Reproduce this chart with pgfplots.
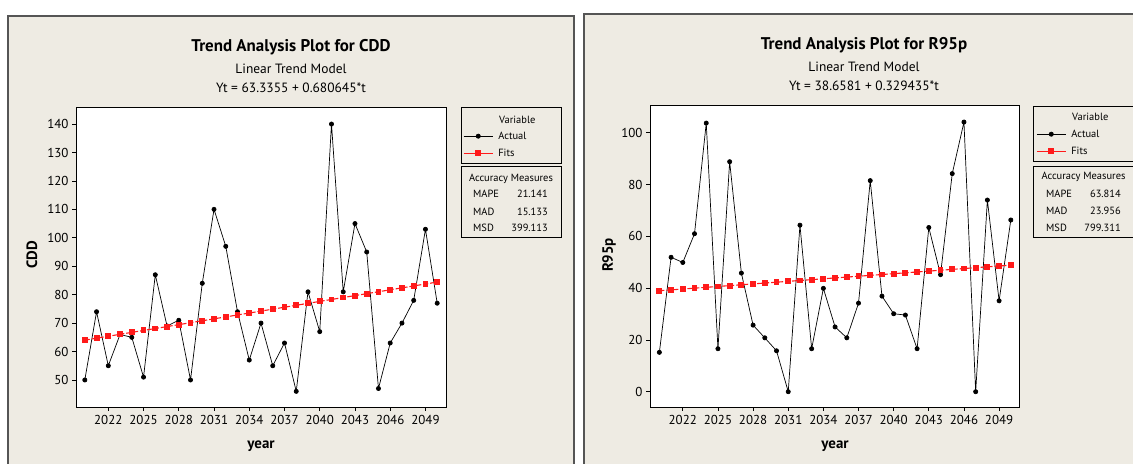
\documentclass[border=0pt]{standalone}
\usepackage{fontspec}
\setmainfont{PT Sans}
\usepackage{pgfplots}
\pgfplotsset{compat=1.18}
\definecolor{panelbg}{HTML}{EEEBE3}
\definecolor{panelln}{HTML}{555555}
\definecolor{fitred}{HTML}{FF1A1A}
\pgfplotsset{
  trendax/.style={
    scale only axis, anchor=south west,
    axis line style={black, line width=0.8bp},
    axis background/.style={fill=white},
    tick align=outside, tick pos=left,
    major tick length=4bp,
    every tick/.style={black, line width=0.7bp},
    xtick={2022,2025,...,2049},
    xticklabel style={/pgf/number format/1000 sep={}},
    /pgf/number format/assume math mode=true,
    tick label style={font=\fontsize{13}{14}\selectfont},
    xticklabel style={yshift=-1bp},
    legend image code/.code={%
      \draw[#1,solid,mark=none] (0pt,0pt) -- (29bp,0pt);
      \draw[#1,solid] plot coordinates {(14.5bp,0pt)};},
    legend style={draw=none, fill=none, inner sep=0pt, row sep=0pt,
      font=\fontsize{10.5}{11}\selectfont,
      nodes={inner xsep=5bp, inner ysep=0pt, minimum height=17bp},
      legend cell align=left},
  },
  actual/.style={black, line width=0.7bp, mark=*, mark size=2.1bp, mark options={fill=black, solid}},
  fits/.style={fitred, line width=1.1bp, dash pattern=on 5bp off 2bp, mark=square*, mark size=2.4bp, mark options={fill=fitred, solid}},
}
\begin{document}
\begin{tikzpicture}[x=1bp,y=1bp]
\path[use as bounding box] (0,0) rectangle (1133,464);
\clip (0,0) rectangle (1133,464);
\fill[white] (0,0) rectangle (1133,464);
% panels
\filldraw[fill=panelbg, draw=panelln, line width=1.3bp] (8,448) rectangle (574,-10);
\filldraw[fill=panelbg, draw=panelln, line width=1.3bp] (584,450) rectangle (1150,-10);

\coordinate (axL) at (76,57);
\coordinate (axR) at (650,57);

% ---------- left titles ----------
\node[font=\fontsize{17}{18}\selectfont\bfseries] at (291,417) {Trend Analysis Plot for CDD};
\node[font=\fontsize{13.5}{14}\selectfont] at (291,395) {Linear Trend Model};
\node[font=\fontsize{13.5}{14}\selectfont] at (291,376) {Yt = 63.3355 + 0.680645*t};
\node[font=\fontsize{15}{16}\selectfont\bfseries] at (261,18) {year};
\node[font=\fontsize{15}{16}\selectfont\bfseries, rotate=90] at (32,209) {CDD};

\begin{axis}[trendax, at={(axL)}, width=370bp, height=300bp,
  xmin=2019.25, xmax=2050.75, ymin=40.5, ymax=146,
  ytick={50,60,...,140},
  legend style={at={(1.0459,0.9317)}, anchor=north west}]
\addplot[actual] coordinates {
(2020,50)(2021,74)(2022,55)(2023,66)(2024,65)(2025,51)(2026,87)(2027,69)(2028,71)(2029,50)
(2030,84)(2031,110)(2032,97)(2033,74)(2034,57)(2035,70)(2036,55)(2037,63)(2038,46)(2039,81)
(2040,67)(2041,140)(2042,81)(2043,105)(2044,95)(2045,47)(2046,63)(2047,70)(2048,78)(2049,103)
(2050,77)};
\addlegendentry{Actual}
\addplot[fits] coordinates {
(2020,64.016)(2021,64.697)(2022,65.377)(2023,66.058)(2024,66.739)(2025,67.419)(2026,68.100)
(2027,68.781)(2028,69.461)(2029,70.142)(2030,70.823)(2031,71.503)(2032,72.184)(2033,72.865)
(2034,73.545)(2035,74.226)(2036,74.907)(2037,75.587)(2038,76.268)(2039,76.948)(2040,77.629)
(2041,78.310)(2042,78.990)(2043,79.671)(2044,80.352)(2045,81.032)(2046,81.713)(2047,82.394)
(2048,83.074)(2049,83.755)(2050,84.436)};
\addlegendentry{Fits}
\end{axis}
% left legend boxes
\draw[black, line width=0.8bp] (461,357) rectangle (561,301);
\node[font=\fontsize{10.5}{11}\selectfont, anchor=west, inner sep=0pt] at (499,344) {Variable};
\draw[black, line width=0.8bp] (461,298) rectangle (561,227);
\begin{scope}[font=\fontsize{10.5}{11}\selectfont]
\node at (511,285) {Accuracy Measures};
\node[anchor=west, inner sep=0pt] at (473,270) {MAPE};
\node[anchor=west, inner sep=0pt] at (473,252) {MAD};
\node[anchor=west, inner sep=0pt] at (473,236) {MSD};
\node[anchor=east, inner sep=0pt] at (548,270) {21.141};
\node[anchor=east, inner sep=0pt] at (548,252) {15.133};
\node[anchor=east, inner sep=0pt] at (548,236) {399.113};
\end{scope}

% ---------- right titles ----------
\node[font=\fontsize{17}{18}\selectfont\bfseries] at (864,419) {Trend Analysis Plot for R95p};
\node[font=\fontsize{13.5}{14}\selectfont] at (864,397) {Linear Trend Model};
\node[font=\fontsize{13.5}{14}\selectfont] at (864,378) {Yt = 38.6581 + 0.329435*t};
\node[font=\fontsize{15}{16}\selectfont\bfseries] at (835,18) {year};
\node[font=\fontsize{15}{16}\selectfont\bfseries, rotate=90] at (609,209) {R95p};

\begin{axis}[trendax, at={(axR)}, width=369bp, height=302bp,
  xmin=2019.2, xmax=2050.7, ymin=-5.9, ymax=110.7,
  ytick={0,20,...,100},
  legend style={at={(1.0461,0.9321)}, anchor=north west}]
\addplot[actual] coordinates {
(2020,15.2)(2021,51.9)(2022,49.9)(2023,61)(2024,103.7)(2025,16.6)(2026,88.8)(2027,45.8)(2028,25.7)(2029,20.8)
(2030,15.8)(2031,0)(2032,64.3)(2033,16.6)(2034,39.9)(2035,25)(2036,20.8)(2037,34.2)(2038,81.5)(2039,36.9)
(2040,30.1)(2041,29.6)(2042,16.6)(2043,63.4)(2044,45.2)(2045,84.2)(2046,104.1)(2047,0)(2048,74)(2049,35.1)
(2050,66.3)};
\addlegendentry{Actual}
\addplot[fits] coordinates {
(2020,38.988)(2021,39.317)(2022,39.646)(2023,39.976)(2024,40.305)(2025,40.635)(2026,40.964)
(2027,41.294)(2028,41.623)(2029,41.953)(2030,42.282)(2031,42.611)(2032,42.941)(2033,43.270)
(2034,43.600)(2035,43.929)(2036,44.259)(2037,44.588)(2038,44.918)(2039,45.247)(2040,45.576)
(2041,45.906)(2042,46.235)(2043,46.565)(2044,46.894)(2045,47.224)(2046,47.553)(2047,47.882)
(2048,48.212)(2049,48.541)(2050,48.871)};
\addlegendentry{Fits}
\end{axis}
% right legend boxes
\draw[black, line width=0.8bp] (1033,358) rectangle (1140,303);
\node[font=\fontsize{10.5}{11}\selectfont, anchor=west, inner sep=0pt] at (1072,347) {Variable};
\draw[black, line width=0.8bp] (1033,298) rectangle (1140,227);
\begin{scope}[font=\fontsize{10.5}{11}\selectfont]
\node at (1083.5,287) {Accuracy Measures};
\node[anchor=west, inner sep=0pt] at (1046,270) {MAPE};
\node[anchor=west, inner sep=0pt] at (1046,253) {MAD};
\node[anchor=west, inner sep=0pt] at (1046,236) {MSD};
\node[anchor=east, inner sep=0pt] at (1121,270) {63.814};
\node[anchor=east, inner sep=0pt] at (1121,253) {23.956};
\node[anchor=east, inner sep=0pt] at (1121,236) {799.311};
\end{scope}
\end{tikzpicture}
\end{document}
